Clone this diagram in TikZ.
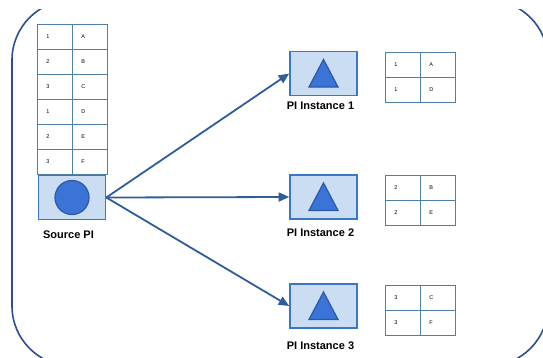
\documentclass[tikz,border=0pt]{standalone}
\usepackage{fontspec}
\setmainfont{Liberation Sans}
\usetikzlibrary{arrows.meta}

\definecolor{frameblue}{HTML}{2D4F92}
\definecolor{boxfill}{HTML}{CADDF2}
\definecolor{boxline}{HTML}{3B78C4}
\definecolor{shapefill}{HTML}{3B74D6}
\definecolor{shapeline}{HTML}{2A58A8}
\definecolor{gridline}{HTML}{4F7EA8}
\definecolor{arrowblue}{HTML}{2C5D9C}

\begin{document}
\begin{tikzpicture}[x=1pt,y=-1pt,
  cell/.style={draw=gridline, line width=0.9pt, minimum width=35pt, minimum height=25pt,
    inner xsep=9pt, inner ysep=0pt, text width=17pt, align=left,
    font=\fontsize{5.5}{6}\selectfont, anchor=north west},
  pibox/.style={draw=boxline, fill=boxfill, line width=1.6pt,
    minimum width=67pt, minimum height=44pt, inner sep=0pt},
  dot/.style={circle, draw=shapeline, fill=shapefill, line width=1.2pt,
    minimum size=34pt, inner sep=0pt},
  tri/.style={draw=shapeline, fill=shapefill, line width=1.2pt, line join=miter},
  pilabel/.style={font=\bfseries\fontsize{11}{13}\selectfont, anchor=base, inner sep=0pt},
  flow/.style={draw=arrowblue, line width=1.8pt, -{Triangle[length=10.5pt,width=9pt]}}
]
\useasboundingbox (0,0) rectangle (543,357);

% outer process frame, running past the page edges
\begin{scope}
  \clip (0,9) rectangle (543,357);
  \draw[frameblue, line width=1.6pt, rounded corners=60pt] (12,0) rectangle (548,366);
\end{scope}

% source records
\foreach \k/\v [count=\i] in {1/A,2/B,3/C,1/D,2/E,3/F} {
  \node[cell] (sk\i) at (37,{24+25*(\i-1)}) {\k};
  \node[cell] (sv\i) at (72,{24+25*(\i-1)}) {\v};
}

% source operator
\node[pibox] (src) at (72,197.5) {};
\node[dot] (srcdot) at (src.center) {};
\node[pilabel] (srclabel) at (68.5,238) {Source PI};

% parallel instances
\foreach \n/\y/\base in {1/73.5/109.5, 2/197/236, 3/306/349} {
  \node[pibox] (p\n) at (323.5,\y) {};
  \draw[tri] (323.5,\y-14) -- (338,\y+13.5) -- (309,\y+13.5) -- cycle;
  \node[pilabel] (p\n label) at (320.5,\base) {PI Instance \n};
}

% records received by each instance
\foreach \t/\top/\ka/\va/\kb/\vb in {1/52/1/A/1/D, 2/175/2/B/2/E, 3/285/3/C/3/F} {
  \node[cell] (t\t ka) at (385,\top) {\ka};
  \node[cell] (t\t va) at (420,\top) {\va};
  \node[cell] (t\t kb) at (385,\top+25) {\kb};
  \node[cell] (t\t vb) at (420,\top+25) {\vb};
}

% distribution
\foreach \n in {1,2,3} {
  \draw[flow] (src.east) -- (p\n.west);
}
\end{tikzpicture}
\end{document}
